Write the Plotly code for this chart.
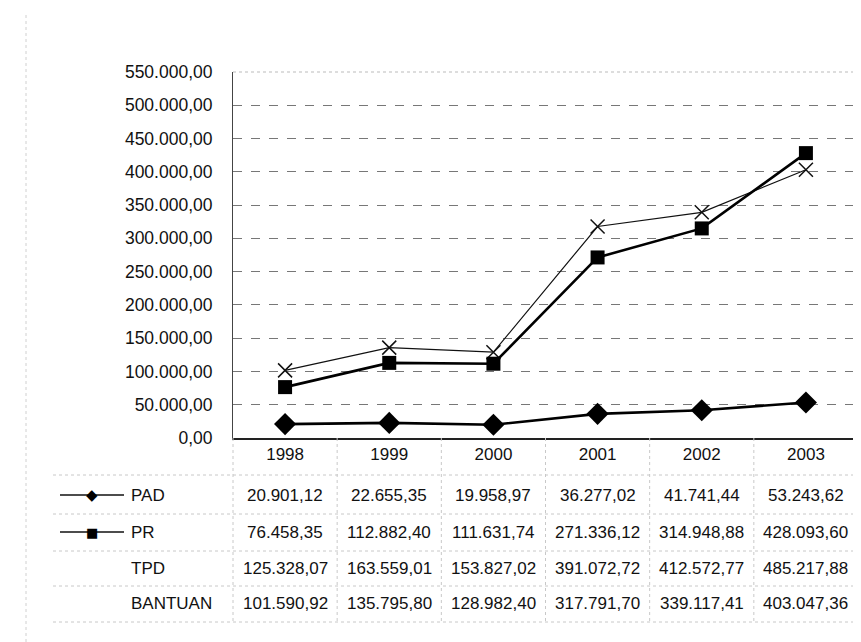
import plotly.graph_objects as go

years = ["1998", "1999", "2000", "2001", "2002", "2003"]
pad = [20901.12, 22655.35, 19958.97, 36277.02, 41741.44, 53243.62]
pr = [76458.35, 112882.40, 111631.74, 271336.12, 314948.88, 428093.60]
tpd = [125328.07, 163559.01, 153827.02, 391072.72, 412572.77, 485217.88]
bantuan = [101590.92, 135795.80, 128982.40, 317791.70, 339117.41, 403047.36]
row_names = ["PAD", "PR", "TPD", "BANTUAN"]
y_ticks = list(range(0, 550001, 50000))


def fmt(v, dec=2):
    s = f"{v:,.{dec}f}"
    return s.replace(",", "#").replace(".", ",").replace("#", ".")


FONT = "Liberation Sans, Arial, sans-serif"
W, H = 861, 642
L, R, T, B = 225, 11, 64, 212
plot_h = H - T - B
plot_w = W - L - R


def py(ypix):
    return (H - B - ypix) / plot_h


def px(xpix):
    return (xpix - L) / plot_w


fig = go.Figure()
fig.add_trace(go.Scatter(x=years, y=bantuan, mode="lines+markers", name="BANTUAN",
                         line=dict(color="#111", width=1.2),
                         marker=dict(symbol="x-thin", size=14, line=dict(color="#111", width=1.5))))
fig.add_trace(go.Scatter(x=years, y=pr, mode="lines+markers", name="PR",
                         line=dict(color="#000", width=2.6),
                         marker=dict(symbol="square", size=14, color="#000")))
fig.add_trace(go.Scatter(x=years, y=pad, mode="lines+markers", name="PAD",
                         line=dict(color="#000", width=2.6),
                         marker=dict(symbol="diamond", size=17, color="#000")))

annotations = []
shapes = []
row_y = [487, 524, 560, 595]
series = [pad, pr, tpd, bantuan]
n = len(years)
for name, yp, vals in zip(row_names, row_y, series):
    annotations.append(dict(text=name, x=px(121), y=py(yp), xref="paper", yref="paper",
                            xanchor="left", yanchor="middle", showarrow=False,
                            font=dict(family=FONT, size=17, color="#111")))
    for i, v in enumerate(vals):
        annotations.append(dict(text=fmt(v), x=(i + 0.5) / n, y=py(yp), xref="paper", yref="paper",
                                xanchor="center", yanchor="middle", showarrow=False,
                                font=dict(family=FONT, size=17, color="#111")))

# legend keys
for sym, yp, sz in [("◆", 487, 15), ("■", 524, 13)]:
    shapes.append(dict(type="line", xref="paper", yref="paper", x0=px(52), x1=px(116),
                       y0=py(yp), y1=py(yp), line=dict(color="#111", width=1.5)))
    annotations.append(dict(text=sym, x=px(84), y=py(yp), xref="paper", yref="paper",
                            xanchor="center", yanchor="middle", showarrow=False,
                            font=dict(family="DejaVu Sans", size=sz, color="#000")))

# table grid (faint dotted)
for yp in [467, 506, 543, 578, 614]:
    shapes.append(dict(type="line", xref="paper", yref="paper", x0=px(45), x1=1.0,
                       y0=py(yp), y1=py(yp), line=dict(color="#c8c8c8", width=1, dash="dot")))
for i in range(n + 1):
    shapes.append(dict(type="line", xref="paper", yref="paper", x0=i / n, x1=i / n,
                       y0=py(430), y1=py(614), line=dict(color="#c8c8c8", width=1, dash="dot")))
# page border
shapes.append(dict(type="line", xref="paper", yref="paper", x0=px(18), x1=px(18),
                   y0=py(640), y1=py(5), line=dict(color="#d0d0d0", width=1, dash="dot")))
# right plot border
shapes.append(dict(type="line", xref="paper", yref="paper", x0=1, x1=1, y0=0, y1=1,
                   line=dict(color="#999", width=1, dash="dot")))
shapes.append(dict(type="line", xref="paper", yref="paper", x0=0, x1=1, y0=1, y1=1,
                   line=dict(color="#bbb", width=1, dash="dot")))

fig.update_layout(
    width=W, height=H,
    margin=dict(l=L, r=R, t=T, b=B),
    paper_bgcolor="white", plot_bgcolor="white",
    showlegend=False,
    font=dict(family=FONT, size=17, color="#111"),
    xaxis=dict(type="category", categoryorder="array", categoryarray=years,
               showgrid=False, showline=True, linecolor="#222", linewidth=1.5,
               ticks="", tickfont=dict(family=FONT, size=17, color="#111"),
               range=[-0.5, 5.5]),
    yaxis=dict(range=[0, 550000], tickvals=y_ticks, ticktext=[fmt(v) for v in y_ticks],
               showgrid=True, gridcolor="#777", griddash="dash", gridwidth=1,
               showline=True, linecolor="#444", linewidth=1, zeroline=False,
               ticks="", ticklabelstandoff=16,
               tickfont=dict(family=FONT, size=17.5, color="#111")),
    annotations=annotations,
    shapes=shapes,
)
fig.write_html("out.html")
